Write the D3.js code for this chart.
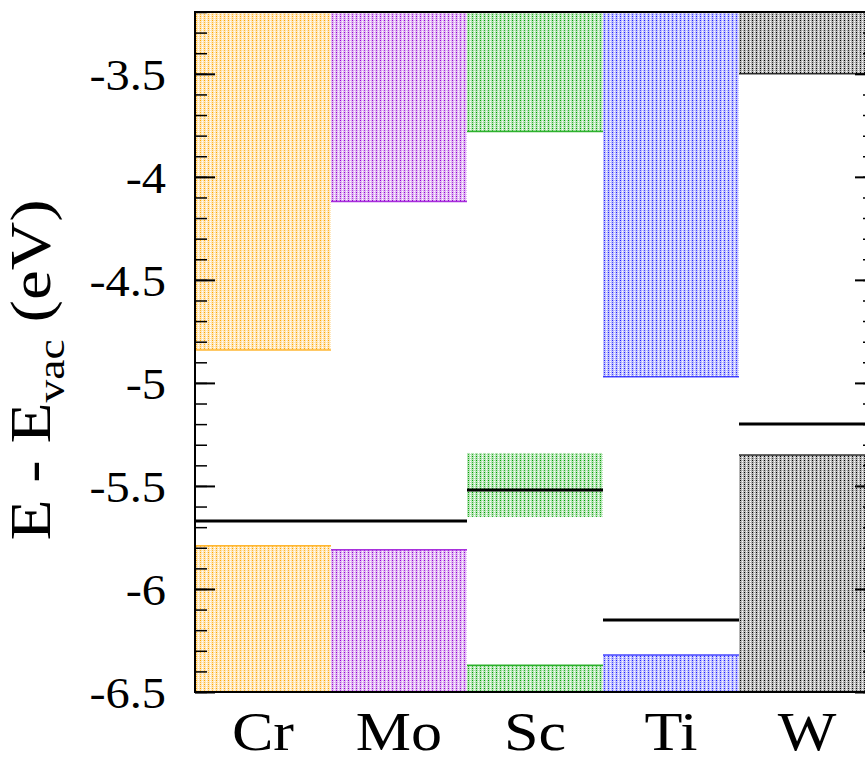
<!DOCTYPE html>
<meta charset="utf-8">
<html><head>
<style>
body { margin: 0; background: #fff; }
text { font-family: "Liberation Serif", "DejaVu Serif", serif; fill: #000; }
</style>
</head>
<body>
<svg width="865" height="757"></svg>
<script src="https://d3js.org/d3.v7.min.js"></script>
<script>

var categories = ["Cr", "Mo", "Sc", "Ti", "W"];
var cbm = [-4.84, -4.12, -3.78, -4.97, -3.50];   // bottom of upper band
var vbm = [-5.79, -5.81, -6.37, -6.32, -5.35];   // top of lower band
var colors = ["#ffa500", "#9400d3", "#00a000", "#1e1eff", "#000000"];

// extra band inside the gap for Sc
var midBandCat = "Sc", midBandTop = -5.34, midBandBottom = -5.65;

// black level lines: from category, to category, value
var levelFrom = ["Cr", "Sc", "Ti", "W"];
var levelTo = ["Mo", "Sc", "Ti", "W"];
var levelValue = [-5.67, -5.52, -6.15, -5.20];

var yTicks = [-6.5, -6, -5.5, -5, -4.5, -4, -3.5];

var svg = d3.select("svg");
var mLeft = 195, mRight = 875, mTop = 12, mBottom = 692;

var x = d3.scaleBand().domain(categories).range([mLeft, mRight]).padding(0);
var y = d3.scaleLinear().domain([-6.5, -3.2]).range([mBottom, mTop]);

var defs = svg.append("defs");
colors.forEach(function(c, i) {
  var p = defs.append("pattern")
      .attr("id", "pat" + i)
      .attr("patternUnits", "userSpaceOnUse")
      .attr("width", 4).attr("height", 4);
  p.append("rect").attr("width", 4).attr("height", 4).attr("fill", "#fff");
  p.append("rect").attr("width", 4).attr("height", 4).attr("fill", c).attr("fill-opacity", 0.28);
  p.append("rect").attr("x", 0).attr("y", 0).attr("width", 1).attr("height", 1).attr("fill", c);
  p.append("rect").attr("x", 0).attr("y", 2).attr("width", 1).attr("height", 1).attr("fill", c).attr("fill-opacity", 0.7);
  p.append("rect").attr("x", 2).attr("y", 1).attr("width", 1).attr("height", 1).attr("fill", "#fff");
  p.append("rect").attr("x", 2).attr("y", 3).attr("width", 1).attr("height", 1).attr("fill", "#fff");
});

var clip = defs.append("clipPath").attr("id", "plotclip");
clip.append("rect").attr("x", mLeft).attr("y", mTop).attr("width", mRight - mLeft).attr("height", mBottom - mTop);

var g = svg.append("g").attr("clip-path", "url(#plotclip)");

// upper bands
g.selectAll(".cb").data(categories).enter().append("rect")
    .attr("x", function(d) { return x(d); })
    .attr("width", x.bandwidth())
    .attr("y", y(-3.2))
    .attr("height", function(d, i) { return y(cbm[i]) - y(-3.2); })
    .attr("fill", function(d, i) { return "url(#pat" + i + ")"; });

// lower bands
g.selectAll(".vb").data(categories).enter().append("rect")
    .attr("x", function(d) { return x(d); })
    .attr("width", x.bandwidth())
    .attr("y", function(d, i) { return y(vbm[i]); })
    .attr("height", function(d, i) { return y(-6.5) - y(vbm[i]); })
    .attr("fill", function(d, i) { return "url(#pat" + i + ")"; });

// band edges
g.selectAll(".cbedge").data(categories).enter().append("line")
    .attr("x1", function(d) { return x(d); })
    .attr("x2", function(d) { return x(d) + x.bandwidth(); })
    .attr("y1", function(d, i) { return y(cbm[i]); })
    .attr("y2", function(d, i) { return y(cbm[i]); })
    .attr("stroke", function(d, i) { return colors[i]; })
    .attr("stroke-opacity", 0.8)
    .attr("stroke-width", 1.5);
g.selectAll(".vbedge").data(categories).enter().append("line")
    .attr("x1", function(d) { return x(d); })
    .attr("x2", function(d) { return x(d) + x.bandwidth(); })
    .attr("y1", function(d, i) { return y(vbm[i]); })
    .attr("y2", function(d, i) { return y(vbm[i]); })
    .attr("stroke", function(d, i) { return colors[i]; })
    .attr("stroke-opacity", 0.8)
    .attr("stroke-width", 1.5);

// Sc band in the gap
var mi = categories.indexOf(midBandCat);
g.append("rect")
    .attr("x", x(midBandCat))
    .attr("width", x.bandwidth())
    .attr("y", y(midBandTop))
    .attr("height", y(midBandBottom) - y(midBandTop))
    .attr("fill", "url(#pat" + mi + ")");

// level lines
g.selectAll(".level").data(levelValue).enter().append("line")
    .attr("x1", function(d, i) { return x(levelFrom[i]); })
    .attr("x2", function(d, i) { return x(levelTo[i]) + x.bandwidth(); })
    .attr("y1", function(d) { return y(d); })
    .attr("y2", function(d) { return y(d); })
    .attr("stroke", "#000")
    .attr("stroke-width", 3);

// axes
var minor = d3.range(-6.5, -3.15, 0.1).map(function(v) { return Math.round(v * 10) / 10; });

svg.append("g")
    .attr("transform", "translate(" + mLeft + ",0)")
    .call(d3.axisRight(y).tickValues(minor).tickSize(12).tickFormat(""))
    .call(function(s) { s.select(".domain").remove(); s.selectAll("line").attr("stroke-width", 1.5); });
svg.append("g")
    .attr("transform", "translate(" + mLeft + ",0)")
    .call(d3.axisRight(y).tickValues(yTicks).tickSize(20).tickFormat(""))
    .call(function(s) { s.select(".domain").remove(); s.selectAll("line").attr("stroke-width", 2); });
svg.append("g")
    .attr("transform", "translate(" + mRight + ",0)")
    .call(d3.axisLeft(y).tickValues(minor).tickSize(12).tickFormat(""))
    .call(function(s) { s.select(".domain").remove(); s.selectAll("line").attr("stroke-width", 1.5); });
svg.append("g")
    .attr("transform", "translate(" + mRight + ",0)")
    .call(d3.axisLeft(y).tickValues(yTicks).tickSize(20).tickFormat(""))
    .call(function(s) { s.select(".domain").remove(); s.selectAll("line").attr("stroke-width", 2); });

svg.append("rect")
    .attr("x", mLeft).attr("y", mTop)
    .attr("width", mRight - mLeft).attr("height", mBottom - mTop)
    .attr("fill", "none").attr("stroke", "#000").attr("stroke-width", 2);

// tick labels
svg.append("g").selectAll("text").data(yTicks).enter().append("text")
    .attr("transform", function(d) { return "translate(166," + (y(d) + 16) + ") scale(1.1,1)"; })
    .attr("text-anchor", "end")
    .attr("font-size", 44)
    .text(function(d) { return String(d); });

svg.append("g").selectAll("text").data(categories).enter().append("text")
    .attr("transform", function(d) { return "translate(" + (x(d) + x.bandwidth() / 2) + ",750) scale(1.15,1)"; })
    .attr("text-anchor", "middle")
    .attr("font-size", 54)
    .text(function(d) { return d; });

// axis title
var title = svg.append("text")
    .attr("transform", "translate(50,370) rotate(-90) scale(1.2,1)")
    .attr("text-anchor", "middle")
    .attr("font-size", 56);
title.append("tspan").text("E - E");
title.append("tspan").attr("font-size", 38).attr("dy", 14).text("vac");
title.append("tspan").attr("dy", -14).text(" (eV)");

</script>
</body>
</html>
